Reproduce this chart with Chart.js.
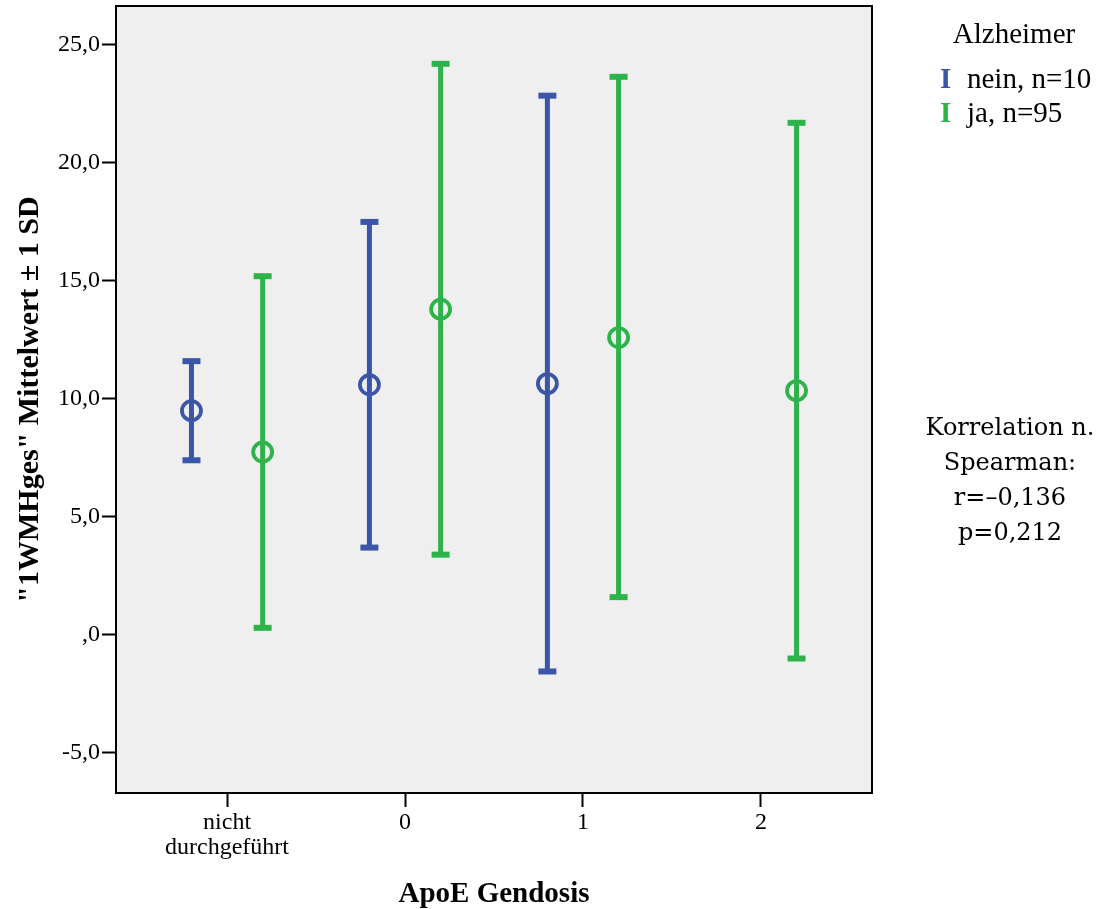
<!DOCTYPE html>
<html>
<head>
<meta charset="utf-8">
<script src="https://cdn.jsdelivr.net/npm/chart.js@4.4.1/dist/chart.umd.min.js"></script>
<style>
  html, body { margin: 0; padding: 0; background: #fff; }
  #wrap { position: relative; width: 1103px; height: 909px; }
  #legend { position: absolute; left: 0; top: 0; font-family: "Liberation Serif", serif; font-size: 29px; line-height: 34px; color: #000; }
  #legend .title { position: absolute; left: 914px; width: 200px; top: 16px; text-align: center; white-space: nowrap; }
  #legend .item { position: absolute; left: 940px; white-space: nowrap; }
  #legend .icon { display: inline-block; width: 27px; font-weight: bold; }
  #corr { position: absolute; left: 910px; width: 200px; top: 410px; text-align: center;
          font-family: "DejaVu Serif", serif; font-size: 24px; line-height: 35px; color: #000; }
</style>
</head>
<body>
<div id="wrap">
  <canvas id="chart" width="1103" height="909"></canvas>
  <div id="legend">
    <div class="title">Alzheimer</div>
    <div class="item" style="top:61px"><span class="icon" style="color:#3b55a8">I</span>nein, n=10</div>
    <div class="item" style="top:95px"><span class="icon" style="color:#2db34a">I</span>ja, n=95</div>
  </div>
  <div id="corr">Korrelation n.<br>Spearman:<br>r=&#8211;0,136<br>p=0,212</div>
</div>
<script>
// categories on the x axis (ApoE Gendosis)
const categories = [["nicht", "durchgeführt"], "0", "1", "2"];
const yTicks = [-5, 0, 5, 10, 15, 20, 25];
const yTickLabels = ["-5,0", ",0", "5,0", "10,0", "15,0", "20,0", "25,0"];

// Alzheimer: nein (n=10) - no value for ApoE 2
const neinMean = [9.5, 10.6, 10.65, null];
const neinUpper = [11.6, 17.5, 22.85, null];
const neinLower = [7.4, 3.7, -1.55, null];

// Alzheimer: ja (n=95)
const jaMean = [7.75, 13.8, 12.6, 10.35];
const jaUpper = [15.2, 24.2, 23.65, 21.7];
const jaLower = [0.3, 3.4, 1.6, -1.0];

const blue = "#3b55a8";
const green = "#2db34a";
const offset = 0.2;

function buildSeries(mean, upper, lower, color, shift) {
  const sets = [];
  mean.forEach((m, i) => {
    if (m === null) return;
    const x = i + shift;
    // whisker with caps
    sets.push({
      type: "line",
      data: [{ x: x, y: lower[i] }, { x: x, y: upper[i] }],
      borderColor: color,
      borderWidth: 5,
      pointStyle: "line",
      pointRadius: 9,
      pointBorderWidth: 6,
      pointBorderColor: color,
      pointHoverRadius: 9,
      fill: false,
      order: 2,
    });
  });
  // mean markers (hollow, whisker shows through)
  sets.push({
    type: "scatter",
    data: mean.map((m, i) => (m === null ? null : { x: i + shift, y: m })).filter((p) => p),
    pointStyle: "circle",
    pointRadius: 9.5,
    pointHoverRadius: 9.5,
    pointBorderWidth: 3.8,
    pointBorderColor: color,
    pointBackgroundColor: "rgba(0,0,0,0)",
    order: 1,
  });
  return sets;
}

const plotFrame = {
  id: "plotFrame",
  beforeDatasetsDraw(chart) {
    const { ctx, chartArea: a } = chart;
    ctx.save();
    ctx.fillStyle = "#efefef";
    ctx.fillRect(a.left, a.top, a.right - a.left, a.bottom - a.top);
    ctx.restore();
  },
  afterDatasetsDraw(chart) {
    const { ctx, chartArea: a } = chart;
    ctx.save();
    ctx.strokeStyle = "#000";
    ctx.lineWidth = 2;
    ctx.strokeRect(a.left, a.top, a.right - a.left, a.bottom - a.top);
    ctx.restore();
  },
};

new Chart(document.getElementById("chart"), {
  type: "scatter",
  data: {
    datasets: [
      ...buildSeries(neinMean, neinUpper, neinLower, blue, -offset),
      ...buildSeries(jaMean, jaUpper, jaLower, green, offset),
    ],
  },
  plugins: [plotFrame],
  options: {
    responsive: false,
    animation: false,
    layout: { autoPadding: false, padding: { left: 0, top: 6, right: 231, bottom: 0 } },
    plugins: {
      legend: { display: false },
      tooltip: { enabled: false },
    },
    scales: {
      x: {
        type: "linear",
        min: -0.624,
        max: 3.624,
        afterBuildTicks: (scale) => {
          scale.ticks = categories.map((_, i) => ({ value: i }));
        },
        afterFit: (scale) => {
          scale.height = 116;
          scale.paddingLeft = 0;
          scale.paddingRight = 0;
        },
        grid: {
          drawOnChartArea: false,
          drawTicks: true,
          tickLength: 14,
          tickWidth: 2,
          tickColor: "#000",
        },
        border: { display: false },
        ticks: {
          autoSkip: false,
          maxRotation: 0,
          padding: 3,
          color: "#000",
          font: { family: "Liberation Serif", size: 24, lineHeight: 1.05 },
          callback: (value) => categories[Math.round(value)],
        },
        title: {
          display: true,
          text: "ApoE Gendosis",
          color: "#000",
          font: { family: "Liberation Serif", size: 29, weight: "bold", lineHeight: 1 },
          padding: { top: 0, bottom: 0 },
        },
      },
      y: {
        type: "linear",
        min: -6.7,
        max: 26.65,
        afterBuildTicks: (scale) => {
          scale.ticks = yTicks.map((v) => ({ value: v }));
        },
        afterFit: (scale) => {
          scale.width = 116;
          scale.paddingTop = 0;
          scale.paddingBottom = 0;
        },
        grid: {
          drawOnChartArea: false,
          drawTicks: true,
          tickLength: 14,
          tickWidth: 2,
          tickColor: "#000",
        },
        border: { display: false },
        ticks: {
          padding: 2,
          color: "#000",
          font: { family: "Liberation Serif", size: 24 },
          callback: (value) => yTickLabels[yTicks.indexOf(value)],
        },
        title: {
          display: true,
          text: "\"1WMHges\" Mittelwert \u00b1 1 SD",
          color: "#000",
          font: { family: "Liberation Serif", size: 30, weight: "bold", lineHeight: 1 },
          padding: { top: 15, bottom: 0 },
        },
      },
    },
  },
});
</script>
</body>
</html>
